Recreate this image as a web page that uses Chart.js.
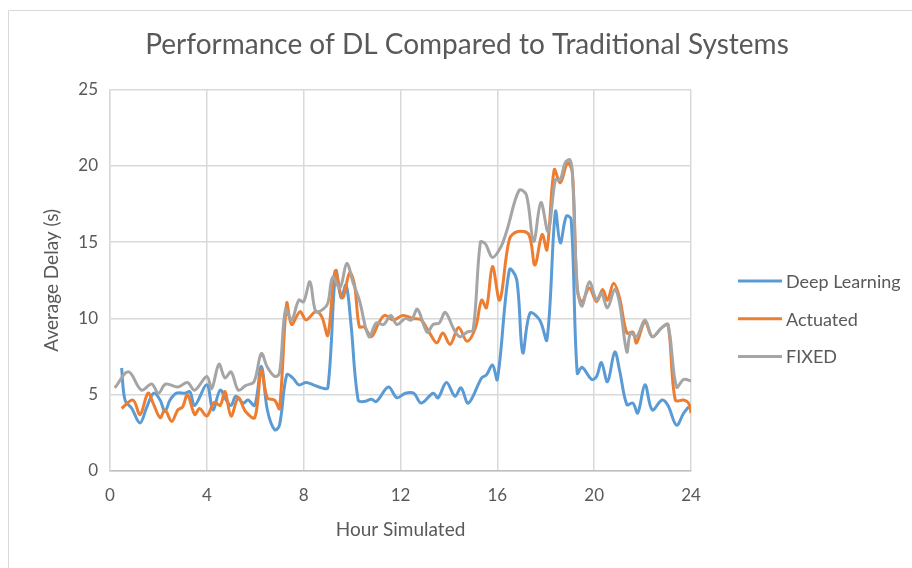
<!DOCTYPE html>
<html>
<head>
<meta charset="utf-8">
<script src="https://cdn.jsdelivr.net/npm/chart.js@4.4.1/dist/chart.umd.min.js"></script>
<style>
  html, body { margin: 0; padding: 0; background: #ffffff; }
  #wrap { width: 912px; height: 568px; position: relative; }
</style>
</head>
<body>
<div id="wrap"><canvas id="c" width="912" height="568"></canvas></div>
<script>
// ---- data ----
const xTicks = [0, 4, 8, 12, 16, 20, 24];
const yTicks = [0, 5, 10, 15, 20, 25];
const seriesNames = ['Deep Learning', 'Actuated', 'FIXED'];

const dlHours = [0.48,0.62,0.9,1.24,1.5,1.8,2.07,2.27,2.48,2.75,3.1,3.3,3.5,4.0,4.25,4.55,4.8,5.0,5.2,5.5,5.7,5.98,6.25,6.5,6.8,7.0,7.3,7.55,7.8,8.1,8.4,8.75,9.0,9.33,9.55,9.75,9.95,10.25,10.5,10.8,11.0,11.5,11.85,12.2,12.55,12.85,13.35,13.55,13.9,14.25,14.5,14.8,15.35,15.55,15.8,16.0,16.5,16.8,17.05,17.35,17.75,18.05,18.4,18.6,18.85,19.05,19.3,19.5,19.9,20.1,20.3,20.55,20.85,21.05,21.35,21.6,21.8,22.1,22.4,22.8,23.05,23.4,23.7,23.9];
const dlDelay = [6.75,4.65,4.1,3.15,4.1,5.1,4.65,3.9,4.65,5.1,5.1,5.2,4.3,5.65,4.0,5.3,4.65,4.3,4.9,4.45,4.65,4.3,6.85,4.0,2.7,3.0,6.3,6.1,5.65,5.8,5.65,5.45,5.45,13.1,11.35,12.2,9.7,4.65,4.55,4.7,4.55,5.5,4.8,5.1,5.1,4.45,5.1,4.8,5.8,4.9,5.45,4.45,6.1,6.3,6.95,6.0,13.2,12.55,7.75,10.35,9.9,8.6,17.0,14.95,16.7,16.5,6.4,6.8,6.0,6.2,7.1,5.85,7.8,6.6,4.35,4.45,3.8,5.65,4.0,4.65,4.3,3.0,3.8,4.2];

const actHours = [0.48,0.95,1.24,1.57,1.78,2.07,2.27,2.55,2.8,3.0,3.2,3.5,3.7,4.0,4.3,4.55,4.75,5.0,5.3,5.6,5.98,6.25,6.5,6.8,7.0,7.3,7.5,7.85,8.1,8.5,8.75,9.0,9.3,9.6,9.9,10.1,10.3,10.5,10.8,11.1,11.35,11.7,12.1,12.5,12.85,13.2,13.5,13.75,14.05,14.4,14.75,15.1,15.35,15.55,15.8,16.1,16.5,16.85,17.3,17.55,17.85,18.05,18.35,18.6,18.9,19.1,19.3,19.5,19.8,20.1,20.35,20.55,20.8,21.05,21.35,21.6,21.75,22.1,22.4,22.8,23.05,23.35,23.7,23.9,24.0];
const actDelay = [4.1,4.65,3.7,5.1,4.45,3.5,4.0,3.25,4.0,4.2,5.0,3.7,4.1,3.6,4.5,4.3,5.2,3.6,4.8,3.9,3.5,6.6,4.8,4.65,4.1,11.0,9.6,10.45,9.9,10.45,10.1,8.9,13.1,11.35,13.0,12.2,9.45,9.45,8.8,9.7,10.2,9.9,10.2,10.0,9.9,9.05,8.4,9.05,8.3,9.4,8.5,9.4,11.2,10.7,13.4,11.2,15.2,15.7,15.5,13.5,15.5,14.5,19.75,18.9,20.2,19.55,11.9,11.1,12.0,11.1,11.9,11.2,12.3,11.35,9.05,9.1,8.4,9.8,8.8,9.4,9.6,4.65,4.65,4.45,3.8];

const fixHours = [0.2,0.76,1.3,1.72,2.0,2.3,2.8,3.2,3.5,4.0,4.2,4.5,4.75,5.0,5.3,5.6,5.95,6.25,6.5,6.8,7.0,7.25,7.5,7.8,8.0,8.26,8.5,8.8,9.0,9.2,9.5,9.78,10.05,10.3,10.7,11.0,11.3,11.6,11.85,12.2,12.45,12.7,13.1,13.35,13.6,13.85,14.2,14.45,14.75,15.0,15.3,15.5,15.8,16.15,16.4,16.9,17.2,17.5,17.8,18.1,18.4,18.6,18.8,19.0,19.1,19.3,19.5,19.8,20.1,20.3,20.55,20.85,21.05,21.35,21.5,21.75,22.1,22.4,22.8,23.05,23.4,23.7,24.0];
const fixDelay = [5.45,6.5,5.3,5.7,5.1,5.7,5.5,5.8,5.3,6.2,5.4,7.0,6.1,6.5,5.3,5.6,5.85,7.7,6.8,6.2,6.4,10.6,9.9,11.2,11.1,12.4,10.45,10.6,11.0,12.7,12.0,13.6,12.3,11.2,8.8,9.7,9.6,10.2,9.6,10.0,9.9,10.6,9.1,9.6,9.7,10.4,9.3,8.8,9.1,9.25,15.0,14.9,14.0,14.7,15.8,18.4,18.1,15.05,17.6,15.7,19.1,19.1,20.2,20.4,19.55,12.1,10.8,12.4,11.2,11.65,10.7,11.9,11.0,7.8,9.05,8.8,9.9,8.8,9.4,9.6,5.5,6.0,5.9];

// ---- styling ----
const FONT = 'Lato';
const TEXT = '#595959';
const GRID = '#d9d9d9';
const colors = ['#5B9BD5', '#ED7D31', '#A5A5A5'];

function pts(xs, ys) { return xs.map((x, i) => ({ x: x, y: ys[i] })); }

const frame = {
  id: 'frame',
  beforeDraw(chart) {
    const ctx = chart.ctx;
    ctx.save();
    ctx.fillStyle = '#ffffff';
    ctx.fillRect(0, 0, chart.width, chart.height);
    ctx.strokeStyle = '#d9d9d9';
    ctx.lineWidth = 1;
    ctx.beginPath();
    ctx.moveTo(8.5, chart.height);
    ctx.lineTo(8.5, 10.5);
    ctx.lineTo(chart.width, 10.5);
    ctx.stroke();
    ctx.restore();
  }
};

const sideLegend = {
  id: 'sideLegend',
  afterDraw(chart) {
    const ctx = chart.ctx;
    ctx.save();
    ctx.font = '18px ' + FONT;
    ctx.textBaseline = 'middle';
    ctx.textAlign = 'left';
    chart.data.datasets.forEach((ds, i) => {
      const y = 281 + i * 37.7;
      ctx.strokeStyle = ds.borderColor;
      ctx.lineWidth = 3;
      ctx.beginPath();
      ctx.moveTo(738, y);
      ctx.lineTo(782, y);
      ctx.stroke();
      ctx.fillStyle = TEXT;
      ctx.fillText(ds.label, 786, y + 1);
    });
    ctx.restore();
  }
};

const seriesX = [dlHours, actHours, fixHours];
const seriesY = [dlDelay, actDelay, fixDelay];

new Chart(document.getElementById('c'), {
  type: 'line',
  data: {
    datasets: seriesNames.map((name, i) => ({
      label: name,
      data: pts(seriesX[i], seriesY[i]),
      borderColor: colors[i],
      backgroundColor: colors[i],
      borderWidth: 3,
      pointRadius: 0,
      tension: 0.35,
      fill: false,
      order: 2 - i
    }))
  },
  options: {
    responsive: false,
    animation: false,
    devicePixelRatio: 1,
    layout: { padding: { left: 22, right: 0, top: 0, bottom: 0 } },
    plugins: {
      legend: { display: false },
      tooltip: { enabled: false },
      title: {
        display: true,
        text: 'Performance of DL Compared to Traditional Systems',
        color: TEXT,
        font: { family: FONT, size: 28, weight: 'normal' },
        padding: { top: 28, bottom: 28 }
      }
    },
    scales: {
      x: {
        type: 'linear',
        min: 0, max: 24,
        afterBuildTicks(scale) { scale.ticks = xTicks.map(v => ({ value: v })); },
        afterFit(scale) { scale.height = 97; },
        ticks: { color: TEXT, font: { family: FONT, size: 17 }, padding: 14 },
        grid: { color: GRID, lineWidth: 1.5, drawTicks: false },
        border: { color: '#bfbfbf', width: 1.5 },
        title: { display: true, text: 'Hour Simulated', color: TEXT,
                 font: { family: FONT, size: 19 }, padding: { top: 0, bottom: 27 } }
      },
      y: {
        min: 0, max: 25,
        afterBuildTicks(scale) { scale.ticks = yTicks.map(v => ({ value: v })); },
        afterFit(scale) { scale.width = 88; },
        ticks: { color: TEXT, font: { family: FONT, size: 17 }, padding: 12 },
        grid: { color: GRID, lineWidth: 1.5, drawTicks: false },
        border: { color: GRID, width: 1.5 },
        title: { display: true, text: 'Average Delay (s)', color: TEXT,
                 font: { family: FONT, size: 19 }, padding: { top: 18, bottom: 0 } }
      },
      side: {
        position: 'right',
        display: true,
        afterFit(scale) { scale.width = 221; },
        ticks: { display: false },
        grid: { display: false, drawTicks: false },
        border: { display: false }
      }
    }
  },
  plugins: [frame, sideLegend]
});
</script>
</body>
</html>
